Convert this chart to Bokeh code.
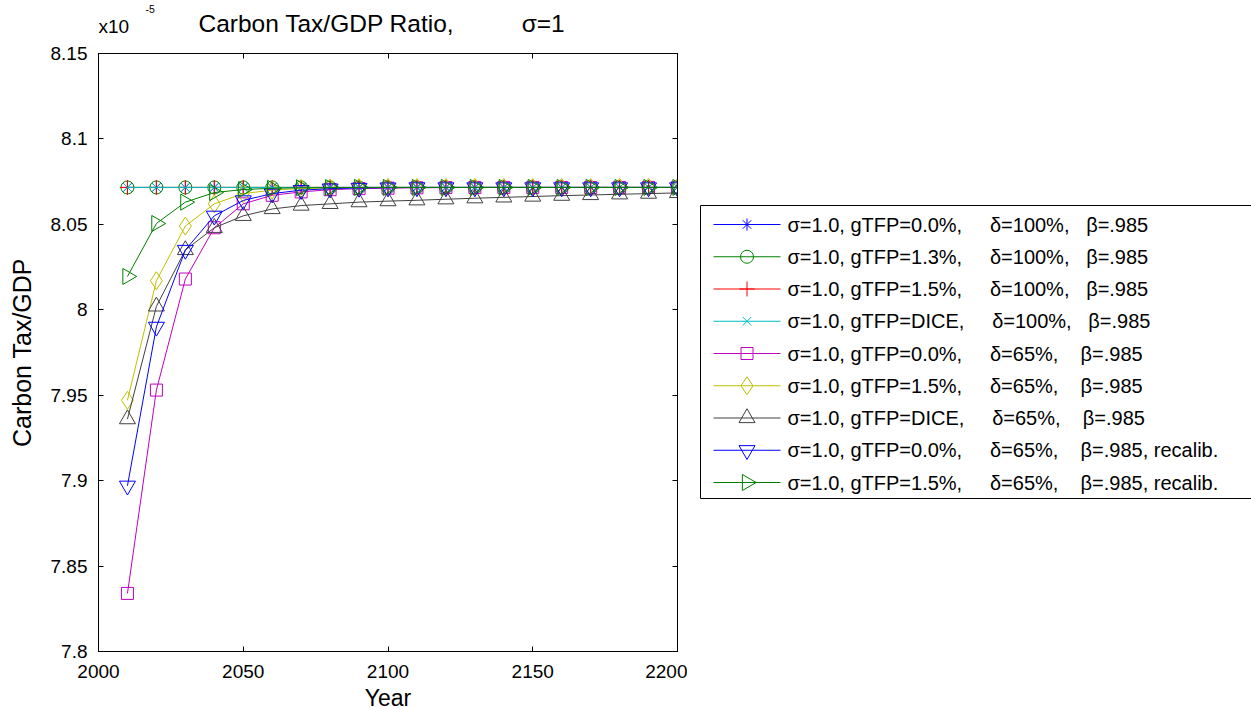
import numpy as np
from bokeh.plotting import figure
from bokeh.layouts import column, row
from bokeh.models import FixedTicker, CustomJSTickFormatter, LinearAxis
from bokeh.core.properties import value
from bokeh.embed import file_html
from bokeh.resources import INLINE

# Carbon tax / GDP ratio, in units of 1e-5
years = [2010, 2020, 2030, 2040, 2050, 2060, 2070, 2080, 2090, 2100,
         2110, 2120, 2130, 2140, 2150, 2160, 2170, 2180, 2190, 2200]

tfp00_d100 = [8.0716, 8.0716, 8.0716, 8.0716, 8.0716, 8.0716, 8.0716, 8.0716, 8.0716, 8.0716,
              8.0716, 8.0716, 8.0716, 8.0716, 8.0716, 8.0716, 8.0716, 8.0716, 8.0716, 8.0716]
tfp13_d100 = [8.0716, 8.0716, 8.0716, 8.0716, 8.0716, 8.0716, 8.0716, 8.0716, 8.0716, 8.0716,
              8.0716, 8.0716, 8.0716, 8.0716, 8.0716, 8.0716, 8.0716, 8.0716, 8.0716, 8.0716]
tfp15_d100 = [8.0716, 8.0716, 8.0716, 8.0716, 8.0716, 8.0716, 8.0716, 8.0716, 8.0716, 8.0716,
              8.0716, 8.0716, 8.0716, 8.0716, 8.0716, 8.0716, 8.0716, 8.0716, 8.0716, 8.0716]
dice_d100 = [8.0716, 8.0716, 8.0716, 8.0716, 8.0716, 8.0716, 8.0716, 8.0716, 8.0716, 8.0716,
             8.0716, 8.0716, 8.0716, 8.0716, 8.0716, 8.0716, 8.0716, 8.0716, 8.0716, 8.0716]
tfp00_d65 = [7.834, 7.953, 8.018, 8.048, 8.062, 8.067, 8.069, 8.0703, 8.0709, 8.0712,
             8.0714, 8.0715, 8.0716, 8.0716, 8.0716, 8.0716, 8.0716, 8.0716, 8.0716, 8.0716]
tfp15_d65 = [7.947, 8.017, 8.049, 8.062, 8.068, 8.0700, 8.0710, 8.0713, 8.0715, 8.0716,
             8.0716, 8.0716, 8.0716, 8.0716, 8.0716, 8.0716, 8.0716, 8.0716, 8.0716, 8.0716]
dice_d65 = [7.936, 8.002, 8.035, 8.048, 8.055, 8.059, 8.061, 8.062, 8.063, 8.0636,
            8.0641, 8.0647, 8.0653, 8.0658, 8.0663, 8.0668, 8.0672, 8.0676, 8.0680, 8.0684]
tfp00_d65_recalib = [7.897, 7.990, 8.035, 8.055, 8.064, 8.068, 8.070, 8.0709, 8.0713, 8.0715,
                     8.0716, 8.0716, 8.0716, 8.0716, 8.0716, 8.0716, 8.0716, 8.0716, 8.0716, 8.0716]
tfp15_d65_recalib = [8.0195, 8.0505, 8.063, 8.0686, 8.0704, 8.0711, 8.0714, 8.0715, 8.0716, 8.0716,
                     8.0716, 8.0716, 8.0716, 8.0716, 8.0716, 8.0716, 8.0716, 8.0716, 8.0716, 8.0716]

xticks = [2000, 2050, 2100, 2150, 2200]
yticks = [7.8, 7.85, 7.9, 7.95, 8.0, 8.05, 8.1, 8.15]

sp5 = "\u00a0" * 5
sp4 = "\u00a0" * 4
sp3 = "\u00a0" * 3
labels = [
    "σ=1.0, gTFP=0.0%," + sp5 + "δ=100%," + sp3 + "β=.985",
    "σ=1.0, gTFP=1.3%," + sp5 + "δ=100%," + sp3 + "β=.985",
    "σ=1.0, gTFP=1.5%," + sp5 + "δ=100%," + sp3 + "β=.985",
    "σ=1.0, gTFP=DICE," + sp5 + "δ=100%," + sp3 + "β=.985",
    "σ=1.0, gTFP=0.0%," + sp5 + "δ=65%," + sp4 + "β=.985",
    "σ=1.0, gTFP=1.5%," + sp5 + "δ=65%," + sp4 + "β=.985",
    "σ=1.0, gTFP=DICE," + sp5 + "δ=65%," + sp4 + "β=.985",
    "σ=1.0, gTFP=0.0%," + sp5 + "δ=65%," + sp4 + "β=.985, recalib.",
    "σ=1.0, gTFP=1.5%," + sp5 + "δ=65%," + sp4 + "β=.985, recalib.",
]

series = [tfp00_d100, tfp13_d100, tfp15_d100, dice_d100, tfp00_d65, tfp15_d65,
          dice_d65, tfp00_d65_recalib, tfp15_d65_recalib]

# (colour, marker, size, angle)
styles = [
    ("#0000ff", "asterisk", 12, 0.0),
    ("#008000", "circle", 13, 0.0),
    ("#ff0000", "cross", 15, 0.0),
    ("#00bfbf", "x", 12, 0.0),
    ("#bf00bf", "square", 12, 0.0),
    ("#bfbf00", "diamond", 18, 0.0),
    ("#404040", "triangle", 16, 0.0),
    ("#0000ff", "inverted_triangle", 16, 0.0),
    ("#008000", "triangle", 16, -np.pi / 2),
]

FONT = "Liberation Sans"
PAGE_W = 1251
HEAD_H = 41                       # strip holding the title and the exponent note
LEFT, FRAME_W, FRAME_H, RIGHT = 98, 579, 598, 10
TOP, BOTTOM = 12, 57              # borders of the axes figure
FRAME_TOP = HEAD_H + TOP          # page row of the top edge of the axes box
MAIN_W = LEFT + FRAME_W + RIGHT


def blank_canvas(w, h, **kw):
    f = figure(width=w, height=h, x_range=(0, w), y_range=(0, h),
               x_axis_type=None, y_axis_type=None, title=None,
               toolbar_location=None, output_backend="svg", **kw)
    f.outline_line_color = None
    f.background_fill_color = "white"
    f.border_fill_color = "white"
    return f


# ---- heading strip: title and the x10^-5 multiplier ----
head = blank_canvas(PAGE_W, HEAD_H, min_border=0)
head.text(x=[198], y=[HEAD_H - 22.8], text=["Carbon Tax/GDP Ratio," + "\u00a0" * 10 + "σ=1"],
          text_font=value(FONT), text_font_size=value("24.5px"), text_color="black",
          text_align="left", text_baseline="middle")
head.text(x=[98], y=[HEAD_H - 26.4], text=["x10"],
          text_font=value(FONT), text_font_size=value("19px"), text_color="black",
          text_align="left", text_baseline="middle")
head.text(x=[145], y=[HEAD_H - 8.3], text=["-5"],
          text_font=value(FONT), text_font_size=value("10.5px"), text_color="black",
          text_align="left", text_baseline="middle")

# ---- main axes ----
p = figure(frame_width=FRAME_W, frame_height=FRAME_H, x_range=(2000, 2200), y_range=(7.8, 8.15),
           output_backend="svg", toolbar_location=None, title=None,
           min_border_left=LEFT, min_border_right=RIGHT, min_border_top=TOP, min_border_bottom=BOTTOM)
p.background_fill_color = "white"
p.border_fill_color = "white"
p.outline_line_color = "black"
p.outline_line_width = 1
p.xgrid.visible = False
p.ygrid.visible = False

fmt = CustomJSTickFormatter(code="return Number(tick.toFixed(2)).toString();")
blank_fmt = CustomJSTickFormatter(code="return '';")


def style_axis(ax, ticks, show_labels):
    ax.ticker = FixedTicker(ticks=ticks)
    ax.axis_line_color = "black"
    ax.major_tick_line_color = "black"
    ax.major_tick_in = 5
    ax.major_tick_out = 0
    ax.minor_tick_in = 0
    ax.minor_tick_out = 0
    ax.major_label_text_font = FONT
    ax.major_label_text_color = "black"
    ax.axis_label_text_font = FONT
    ax.axis_label_text_font_style = "normal"
    ax.axis_label_text_color = "black"
    if show_labels:
        ax.formatter = fmt
        ax.major_label_text_font_size = "19px"
    else:
        # tick marks only on the top and right edges of the box
        ax.formatter = blank_fmt
        ax.major_label_text_font_size = "0px"
        ax.major_label_text_color = None
        ax.major_label_standoff = 0


style_axis(p.xaxis[0], xticks, True)
style_axis(p.yaxis[0], yticks, True)
p.xaxis[0].major_label_standoff = 13
p.yaxis[0].major_label_standoff = 11
p.xaxis[0].axis_label = "Year"
p.xaxis[0].axis_label_text_font_size = "23px"
p.xaxis[0].axis_label_standoff = 4
p.yaxis[0].axis_label = "Carbon Tax/GDP"
p.yaxis[0].axis_label_text_font_size = "25px"
p.yaxis[0].axis_label_standoff = 12

top_ax = LinearAxis()
right_ax = LinearAxis()
style_axis(top_ax, xticks, False)
style_axis(right_ax, yticks, False)
p.add_layout(top_ax, "above")
p.add_layout(right_ax, "right")

for vals, (col, mk, sz, ang) in zip(series, styles):
    p.line(years, vals, line_color=col, line_width=1)
    p.scatter(years, vals, marker=mk, size=sz, angle=ang,
              line_color=col, fill_color=None, line_width=1)

# ---- key, to the right of the axes; its frame shares the axes box rows ----
LEG_W = PAGE_W - MAIN_W
leg = figure(frame_width=LEG_W, frame_height=FRAME_H, x_range=(0, LEG_W), y_range=(0, FRAME_H),
             x_axis_type=None, y_axis_type=None, title=None, toolbar_location=None,
             output_backend="svg", min_border_left=0, min_border_right=0,
             min_border_top=TOP, min_border_bottom=BOTTOM)
leg.outline_line_color = None
leg.background_fill_color = "white"
leg.border_fill_color = "white"


def lx(px):
    return px - MAIN_W


def ly(py):
    return FRAME_TOP + FRAME_H - py


box_left, box_top, box_bottom = 700, 205, 498
leg.quad(left=[lx(box_left)], right=[LEG_W + 20], top=[ly(box_top)], bottom=[ly(box_bottom)],
         fill_color="white", line_color="black", line_width=1)

row_y = [ly(224 + 32.25 * i) for i in range(len(labels))]
for yc, (col, mk, sz, ang) in zip(row_y, styles):
    leg.segment(x0=[lx(713)], x1=[lx(780)], y0=[yc], y1=[yc], line_color=col, line_width=1)
    leg.scatter(x=[lx(746.5)], y=[yc], marker=mk, size=sz, angle=ang,
                line_color=col, fill_color=None, line_width=1)
leg.text(x=[lx(787)] * len(labels), y=row_y, text=labels,
         text_font=value(FONT), text_font_size=value("20px"), text_color="black",
         text_align="left", text_baseline="middle")

layout = column(head, row(p, leg, spacing=0), spacing=0)
open("out.html", "w").write(file_html(layout, INLINE))
